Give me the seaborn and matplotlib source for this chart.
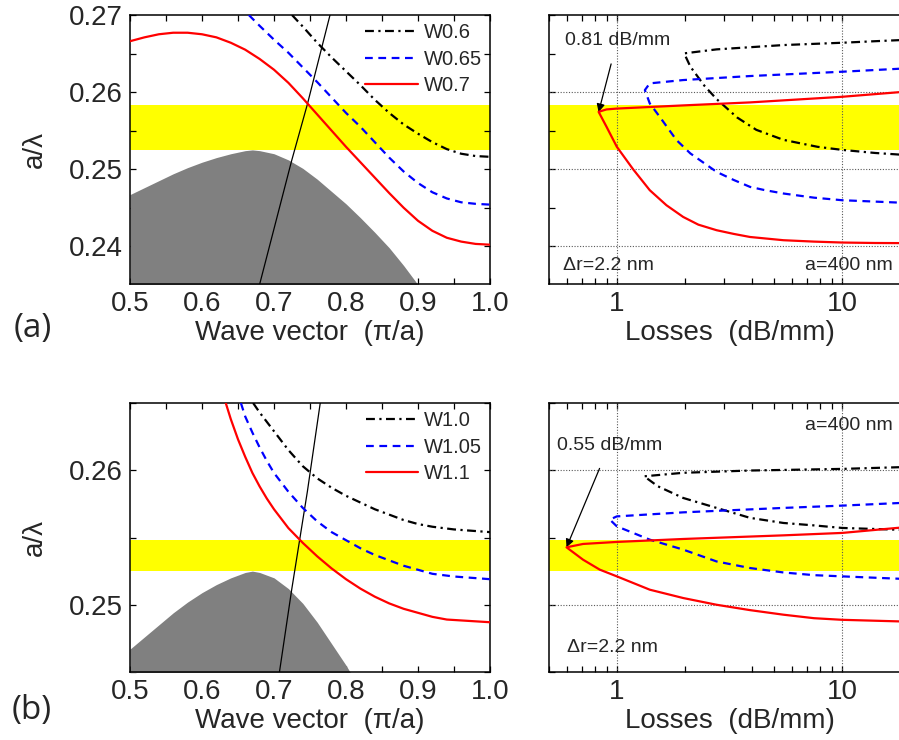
import numpy as np
import pandas as pd
import matplotlib
matplotlib.use("Agg")
import matplotlib.pyplot as plt
import matplotlib.ticker as mticker
import seaborn as sns

sns.set_theme(style="ticks")
plt.rcParams['font.family'] = ['Liberation Sans', 'DejaVu Sans']

# ---- data ----
# light cone edge (gray) and light line, shared by both rows
gray_k = [0.50, 0.52, 0.54, 0.56, 0.58, 0.60, 0.62, 0.64, 0.66, 0.67, 0.68, 0.70, 0.72, 0.74,
          0.76, 0.78, 0.80, 0.82, 0.84, 0.86, 0.88, 0.90]
gray_f = [0.2467, 0.2476, 0.2485, 0.2494, 0.2502, 0.2509, 0.2515, 0.2520, 0.2524, 0.2525, 0.2524,
          0.2520, 0.2512, 0.2501, 0.2487, 0.2471, 0.2455, 0.2437, 0.2418, 0.2398, 0.2375, 0.2350]
light_k = [0.6796, 0.7245, 0.7463, 0.7778]
light_f = [0.2349, 0.2511, 0.2584, 0.2700]

# (a) dispersion W0.6 / W0.65 / W0.7
k_w06 = [0.725, 0.74, 0.76, 0.78, 0.80, 0.82, 0.84, 0.86, 0.88, 0.90, 0.92, 0.94, 0.96, 0.98, 1.00]
f_w06 = [0.2700, 0.2685, 0.2664, 0.2645, 0.2627, 0.2609, 0.2590, 0.2573, 0.2558, 0.2546, 0.2535,
         0.2526, 0.2520, 0.2517, 0.2516]
k_w065 = [0.665, 0.68, 0.70, 0.72, 0.74, 0.76, 0.78, 0.80, 0.82, 0.84, 0.86, 0.88, 0.90, 0.92,
          0.94, 0.96, 0.98, 1.00]
f_w065 = [0.2700, 0.2686, 0.2668, 0.2651, 0.2632, 0.2613, 0.2593, 0.2573, 0.2555, 0.2535, 0.2515,
          0.2497, 0.2482, 0.2470, 0.2462, 0.2457, 0.2455, 0.2454]
k_w07 = [0.50, 0.52, 0.54, 0.56, 0.58, 0.60, 0.62, 0.64, 0.66, 0.68, 0.70, 0.72, 0.74, 0.76, 0.78,
         0.80, 0.82, 0.84, 0.86, 0.88, 0.90, 0.92, 0.94, 0.96, 0.98, 1.00]
f_w07 = [0.2666, 0.2671, 0.2675, 0.2677, 0.2677, 0.2675, 0.2671, 0.2664, 0.2655, 0.2643, 0.2629,
         0.2612, 0.2592, 0.2571, 0.2550, 0.2529, 0.2509, 0.2489, 0.2469, 0.2450, 0.2433, 0.2420,
         0.2411, 0.2406, 0.2403, 0.2402]

# (a) losses: upper branch from the right, the tip, then lower branch back to the right
loss_w06 = [20, 14, 10, 5.49, 2.77, 1.99, 2.12, 2.45, 2.77, 3.42, 4.16, 5.49, 7.77, 10, 14, 20]
lf_w06 = [0.2668, 0.2666, 0.2664, 0.2661, 0.26554, 0.26502, 0.2633, 0.2608, 0.2591, 0.2567, 0.2551,
          0.2538, 0.2529, 0.2525, 0.2521, 0.2518]
loss_w065 = [20, 10, 3.9, 1.97, 1.40, 1.332, 1.40, 1.55, 1.84, 2.12, 2.77, 3.3, 3.9, 4.5, 5.49, 7.5, 10, 20]
lf_w065 = [0.2631, 0.26264, 0.26208, 0.26156, 0.26113, 0.26026, 0.25853, 0.25679, 0.25377, 0.25204,
           0.24965, 0.2486, 0.2477, 0.2473, 0.24684, 0.2463, 0.24597, 0.2456]
loss_w07 = [20, 10, 3.9, 1.97, 1.0, 0.9, 0.83, 0.9, 1.0, 1.18, 1.40, 1.66, 1.97, 2.3, 2.77, 3.3, 3.9,
            5.49, 7.5, 10, 14, 20]
lf_w07 = [0.2601, 0.25939, 0.25866, 0.25827, 0.25786, 0.25775, 0.25744, 0.2555, 0.2529, 0.2500,
          0.24727, 0.24532, 0.2438, 0.2428, 0.24208, 0.2416, 0.2412, 0.24078, 0.2406, 0.24048,
          0.24042, 0.2404]

# (b) dispersion W1.0 / W1.05 / W1.1
k_w10 = [0.671, 0.68, 0.69, 0.70, 0.72, 0.74, 0.76, 0.78, 0.80, 0.82, 0.84, 0.86, 0.88, 0.90,
         0.92, 0.95, 1.00]
f_w10 = [0.2650, 0.2643, 0.2636, 0.2629, 0.2615, 0.2603, 0.2594, 0.2587, 0.2581, 0.2576, 0.2571,
         0.2567, 0.2563, 0.2560, 0.2558, 0.2556, 0.2554]
k_w105 = [0.654, 0.66, 0.67, 0.68, 0.69, 0.70, 0.72, 0.74, 0.76, 0.78, 0.80, 0.82, 0.84, 0.86,
          0.88, 0.90, 0.92, 0.95, 1.00]
f_w105 = [0.2650, 0.2640, 0.2628, 0.2617, 0.2607, 0.2598, 0.2584, 0.2572, 0.2562, 0.2554, 0.2548,
          0.2542, 0.2537, 0.2533, 0.2529, 0.2526, 0.2523, 0.2521, 0.2519]
k_w11 = [0.633, 0.64, 0.65, 0.66, 0.67, 0.68, 0.69, 0.70, 0.72, 0.74, 0.76, 0.78, 0.80, 0.82,
         0.84, 0.86, 0.88, 0.90, 0.92, 0.94, 0.97, 1.00]
f_w11 = [0.2650, 0.2638, 0.2623, 0.2610, 0.2598, 0.2588, 0.2579, 0.2571, 0.2557, 0.2546, 0.2536,
         0.2527, 0.2519, 0.2512, 0.2506, 0.2501, 0.2497, 0.2494, 0.2491, 0.2489, 0.2488, 0.2487]

# (b) losses
loss_w10 = [20, 10, 3.9, 1.97, 1.322, 1.52, 1.97, 2.77, 3.9, 5.49, 7.5, 10, 20]
lf_w10 = [0.26025, 0.2601, 0.25998, 0.25981, 0.25955, 0.25881, 0.25794, 0.2572, 0.25646, 0.25608,
          0.2559, 0.25571, 0.25555]
loss_w105 = [20, 10, 5.49, 1.97, 1.0, 0.931, 1.0, 1.40, 1.97, 2.77, 3.9, 5.49, 7.5, 10, 20]
lf_w105 = [0.2576, 0.25737, 0.2572, 0.25687, 0.25657, 0.25633, 0.25583, 0.25484, 0.2541, 0.25322,
           0.25273, 0.2524, 0.2522, 0.25211, 0.2519]
loss_w11 = [20, 10, 5.49, 1.97, 1.0, 0.708, 0.598, 0.708, 0.84, 1.0, 1.40, 1.97, 2.77, 3.9, 5.49,
            7.5, 10, 20]
lf_w11 = [0.2558, 0.25534, 0.25516, 0.25489, 0.25467, 0.25452, 0.25427, 0.25335, 0.25261, 0.25211,
          0.25112, 0.2505, 0.2500, 0.2496, 0.24926, 0.2490, 0.24888, 0.24874]

band_a = (0.2525, 0.2583)
band_b = (0.2525, 0.2548)

labels_a = ['W0.6', 'W0.65', 'W0.7']
labels_b = ['W1.0', 'W1.05', 'W1.1']

colors = ['black', 'blue', 'red']
styles = [(0, (4, 2, 1, 2)), (0, (3.5, 2.5)), '-']
LW = 1.6


def style_axes(ax):
    for s in ax.spines.values():
        s.set_linewidth(1.1)
        s.set_color('black')
    ax.tick_params(which='both', direction='in', top=True, right=True,
                   width=0.9, color='black', labelsize=20, pad=5)
    ax.tick_params(which='major', length=4)
    ax.tick_params(which='minor', length=4)


def left_panel(ax, ks, fs, labels, band, ylim, yticks):
    ax.axhspan(band[0], band[1], color='#ffff00', lw=0, zorder=0)
    ax.fill_between(gray_k, gray_f, 0.2, color='#808080', lw=0, zorder=1)
    sns.lineplot(x=light_k, y=light_f, ax=ax, color='black', lw=0.9, sort=False, estimator=None, zorder=3)
    handles = []
    for k, f, c, ls, lab in zip(ks, fs, colors, styles, labels):
        sns.lineplot(x=k, y=f, ax=ax, color=c, lw=LW, linestyle=ls, sort=False, estimator=None, zorder=4)
        handles.append(plt.Line2D([], [], color=c, lw=LW, linestyle=ls, label=lab))
    ax.legend(handles=handles, loc='upper right', frameon=False, fontsize=14.5,
              handlelength=2.6, handletextpad=0.3, labelspacing=0.38,
              borderaxespad=0.1, borderpad=0.3)
    ax.set_xlim(0.5, 1.0)
    ax.set_ylim(*ylim)
    ax.set_xticks([0.5, 0.6, 0.7, 0.8, 0.9, 1.0])
    ax.xaxis.set_major_formatter(mticker.FormatStrFormatter('%.1f'))
    ax.xaxis.set_minor_locator(mticker.MultipleLocator(0.05))
    ax.set_yticks(yticks)
    ax.yaxis.set_major_formatter(mticker.FormatStrFormatter('%.2f'))
    ax.yaxis.set_minor_locator(mticker.MultipleLocator(0.005))
    style_axes(ax)
    ax.set_xlabel('Wave vector  (\u03c0/a)', fontsize=20, labelpad=2)
    ax.set_ylabel('a/\u03bb', fontsize=20, labelpad=15)


def right_panel(ax, losses, fs, band, ylim, gridy):
    ax.axhspan(band[0], band[1], color='#ffff00', lw=0, zorder=0)
    for y in gridy:
        ax.axhline(y, color='0.35', ls=(0, (1, 1.5)), lw=0.8, zorder=1)
    for x in [1, 10]:
        ax.axvline(x, color='0.35', ls=(0, (1, 1.5)), lw=0.8, zorder=1)
    for l, f, c, ls in zip(losses, fs, colors, styles):
        sns.lineplot(x=l, y=f, ax=ax, color=c, lw=LW, linestyle=ls, sort=False, estimator=None, zorder=4)
    ax.set_xscale('log')
    ax.set_xlim(0.5, 20)
    ax.set_ylim(*ylim)
    ax.set_xticks([1, 10])
    ax.set_xticklabels(['1', '10'])
    ax.xaxis.set_minor_locator(mticker.LogLocator(base=10, subs=np.arange(2, 10)))
    ax.xaxis.set_minor_formatter(mticker.NullFormatter())
    ax.yaxis.set_major_locator(mticker.MultipleLocator(0.005))
    ax.yaxis.set_minor_locator(mticker.NullLocator())
    ax.set_yticklabels([])
    style_axes(ax)
    ax.set_xlabel('Losses  (dB/mm)', fontsize=20, labelpad=2)
    ax.set_ylabel('')


fig = plt.figure(figsize=(8.99, 7.40), dpi=100)
W, H = 899.0, 740.0
ax_tl = fig.add_axes([130 / W, 1 - 284 / H, 360 / W, 269 / H])
ax_tr = fig.add_axes([549 / W, 1 - 284 / H, 361 / W, 269 / H])
ax_bl = fig.add_axes([130 / W, 1 - 672 / H, 360 / W, 269 / H])
ax_br = fig.add_axes([549 / W, 1 - 672 / H, 361 / W, 269 / H])

left_panel(ax_tl, [k_w06, k_w065, k_w07], [f_w06, f_w065, f_w07], labels_a, band_a,
           (0.2351, 0.27), [0.24, 0.25, 0.26, 0.27])
right_panel(ax_tr, [loss_w06, loss_w065, loss_w07], [lf_w06, lf_w065, lf_w07], band_a,
            (0.2351, 0.27), [0.24, 0.25, 0.26])
left_panel(ax_bl, [k_w10, k_w105, k_w11], [f_w10, f_w105, f_w11], labels_b, band_b,
           (0.245, 0.265), [0.25, 0.26])
right_panel(ax_br, [loss_w10, loss_w105, loss_w11], [lf_w10, lf_w105, lf_w11], band_b,
            (0.245, 0.265), [0.25, 0.26])

# annotations
ax_tr.annotate('0.81 dB/mm', xy=(0.83, 0.2574), xytext=(0.587, 0.26675), fontsize=14,
               va='center', ha='left',
               arrowprops=dict(arrowstyle='-|>', color='black', lw=0.9, mutation_scale=12,
                               shrinkA=9, shrinkB=0))
ax_tr.text(0.575, 0.2375, '\u0394r=2.2 nm', fontsize=14, va='center', ha='left')
ax_tr.text(16.7, 0.2375, 'a=400 nm', fontsize=14, va='center', ha='right')

ax_br.annotate('0.55 dB/mm', xy=(0.598, 0.25427), xytext=(0.541, 0.26187), fontsize=14,
               va='center', ha='left',
               arrowprops=dict(arrowstyle='-|>', color='black', lw=0.9, mutation_scale=12,
                               shrinkA=9, shrinkB=0))
ax_br.text(0.60, 0.24683, '\u0394r=2.2 nm', fontsize=14, va='center', ha='left')
ax_br.text(16.7, 0.26329, 'a=400 nm', fontsize=14, va='center', ha='right')

fig.text(33 / W, 1 - 328 / H, '(a)', fontsize=24, family=['Open Sans', 'DejaVu Sans'], ha='center', va='center')
fig.text(32 / W, 1 - 710 / H, '(b)', fontsize=24, family=['Open Sans', 'DejaVu Sans'], ha='center', va='center')

fig.savefig('out.png', dpi=100)
